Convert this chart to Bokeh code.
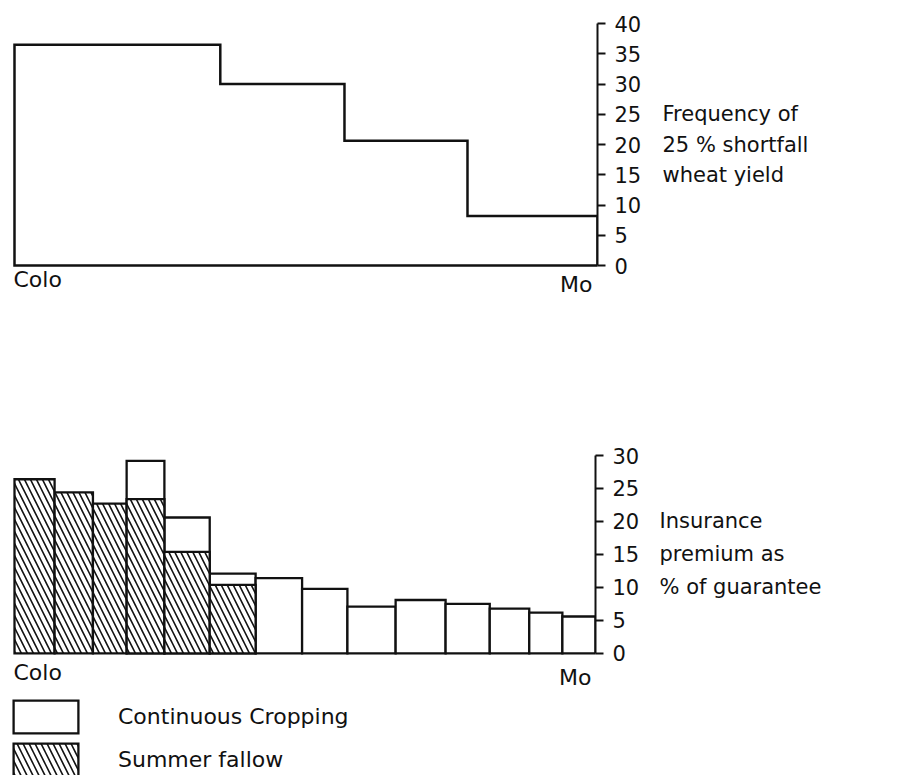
from bokeh.plotting import figure
from bokeh.models import (Range1d, LinearAxis, FixedTicker, Label, Legend,
                          LegendItem, ColumnDataSource)
from bokeh.layouts import column, row
from bokeh.embed import file_html
from bokeh.resources import INLINE

FONT = "DejaVu Sans"
INK = "#111111"

# ---------------- data ----------------
# Upper panel: frequency of a 25 % shortfall in wheat yield, Colo -> Mo transect
freq_edges = [0, 35.3, 56.6, 77.7, 100]          # relative position along transect
freq_values = [36.5, 30.0, 20.6, 8.2]
freq_ticks = [0, 5, 10, 15, 20, 25, 30, 35, 40]
freq_title = ["Frequency of", "25 % shortfall", "wheat yield"]
freq_title_at = [25, 20, 15]

# Lower panel: insurance premium as % of guarantee
bar_edges = [0, 6.9, 13.5, 19.3, 25.8, 33.6, 41.5, 49.5, 57.3, 65.6, 74.2, 81.8, 88.6, 94.3, 100]
continuous = [None, None, None, 29.2, 20.6, 12.1, 11.4, 9.8, 7.1, 8.1, 7.5, 6.8, 6.2, 5.6]
fallow = [26.4, 24.4, 22.7, 23.4, 15.4, 10.4, None, None, None, None, None, None, None, None]
prem_ticks = [0, 5, 10, 15, 20, 25, 30]
prem_title = ["Insurance", "premium as", "% of guarantee"]
prem_title_at = [20, 15, 10]

places = ["Colo", "Mo"]
series_names = ["Continuous Cropping", "Summer fallow"]

CHART_W = 650
TITLE_W = 903 - CHART_W


def style_axis(ax, ticks, bounds):
    ax.ticker = FixedTicker(ticks=ticks)
    ax.bounds = bounds
    ax.axis_line_color = INK
    ax.axis_line_width = 2
    ax.major_tick_line_color = INK
    ax.major_tick_line_width = 2
    ax.major_tick_out = 8
    ax.major_tick_in = 0
    ax.minor_tick_line_color = None
    ax.major_label_standoff = 9
    ax.major_label_text_font = FONT
    ax.major_label_text_font_size = "21px"
    ax.major_label_text_color = INK


def clean(p):
    p.outline_line_color = None
    p.xgrid.visible = False
    p.ygrid.visible = False
    p.background_fill_color = "white"
    p.border_fill_color = "white"
    return p


def chart_fig(height, top, right_px, yr, xmin):
    p = figure(width=CHART_W, height=height, x_range=Range1d(xmin, 100), y_range=yr,
               output_backend="svg", toolbar_location=None,
               x_axis_location=None, y_axis_location=None,
               min_border_left=0, min_border_right=CHART_W - right_px,
               min_border_top=top, min_border_bottom=0)
    return clean(p)


def title_fig(height, top, yr, lines, at, xoff):
    t = figure(width=TITLE_W, height=height, x_range=Range1d(0, 1), y_range=yr,
               output_backend="svg", toolbar_location=None,
               x_axis_location=None, y_axis_location=None,
               min_border_left=0, min_border_right=0,
               min_border_top=top, min_border_bottom=0)
    clean(t)
    for txt, yv in zip(lines, at):
        t.add_layout(Label(x=0, y=yv, text=txt, text_align="left", text_baseline="middle",
                           x_offset=xoff, text_font=FONT, text_font_size="21px",
                           text_color=INK))
    return t


def add_place_labels(p, yoff_colo, yoff_mo, xoff_mo):
    p.add_layout(Label(x=0, y=0, text=places[0], text_align="left",
                       text_baseline="alphabetic", x_offset=-1, y_offset=yoff_colo,
                       text_font=FONT, text_font_size="22px", text_color=INK))
    p.add_layout(Label(x=100, y=0, text=places[1], text_align="right",
                       text_baseline="alphabetic", x_offset=xoff_mo, y_offset=yoff_mo,
                       text_font=FONT, text_font_size="22px", text_color=INK))


# ---------------- upper panel ----------------
# frame spans x 0..597 px, value 40 at y=23 px, value 0 at y=265 px
yr1 = Range1d(-20.66, 40)
p1 = chart_fig(390, 23, 597, yr1, -2.4)
xs, ys = [freq_edges[0]], [0]
for i, v in enumerate(freq_values):
    xs += [freq_edges[i], freq_edges[i + 1]]
    ys += [v, v]
xs.append(freq_edges[-1])
ys.append(0)
p1.patch(xs, ys, fill_alpha=0, line_color=INK, line_width=2.5, line_join="miter")
ax1 = LinearAxis()
style_axis(ax1, freq_ticks, (0, 40))
p1.add_layout(ax1, "right")
add_place_labels(p1, -14, -19, -5)
t1 = title_fig(390, 23, yr1, freq_title, freq_title_at, 12)

# ---------------- lower panel ----------------
# frame spans x 0..595 px, value 30 at y=455 px, value 0 at y=653 px
yr2 = Range1d(-18.5, 30)
p2 = chart_fig(385, 65, 595, yr2, -2.41)

c_idx = [i for i, v in enumerate(continuous) if v is not None]
f_idx = [i for i, v in enumerate(fallow) if v is not None]
src_c = ColumnDataSource(dict(left=[bar_edges[i] for i in c_idx],
                              right=[bar_edges[i + 1] for i in c_idx],
                              top=[continuous[i] for i in c_idx]))
src_f = ColumnDataSource(dict(left=[bar_edges[i] for i in f_idx],
                              right=[bar_edges[i + 1] for i in f_idx],
                              top=[fallow[i] for i in f_idx]))

r_c = p2.quad(left="left", right="right", top="top", bottom=0, source=src_c,
              fill_color="white", line_color=INK, line_width=2.3, line_join="miter")
r_f = p2.quad(left="left", right="right", top="top", bottom=0, source=src_f,
              fill_color="white", line_color=INK, line_width=2.3, line_join="miter",
              hatch_pattern="left_diagonal_line", hatch_color=INK, hatch_scale=12,
              hatch_weight=1.6)

ax2 = LinearAxis()
style_axis(ax2, prem_ticks, (0, 30))
p2.add_layout(ax2, "right")
add_place_labels(p2, -19, -24, -4)
t2 = title_fig(385, 65, yr2, prem_title, prem_title_at, 9)

legend = Legend(items=[LegendItem(label=series_names[0], renderers=[r_c]),
                       LegendItem(label=series_names[1], renderers=[r_f])],
                location=(5, -5), orientation="vertical",
                glyph_width=81, glyph_height=41, label_standoff=32, spacing=2,
                padding=0, margin=0, border_line_color=None,
                background_fill_alpha=0, label_text_font=FONT,
                label_text_font_size="22px", label_text_color=INK)
p2.add_layout(legend, "center")

layout = column(row(p1, t1, spacing=0), row(p2, t2, spacing=0), spacing=0)
open("out.html", "w").write(file_html(layout, INLINE))
